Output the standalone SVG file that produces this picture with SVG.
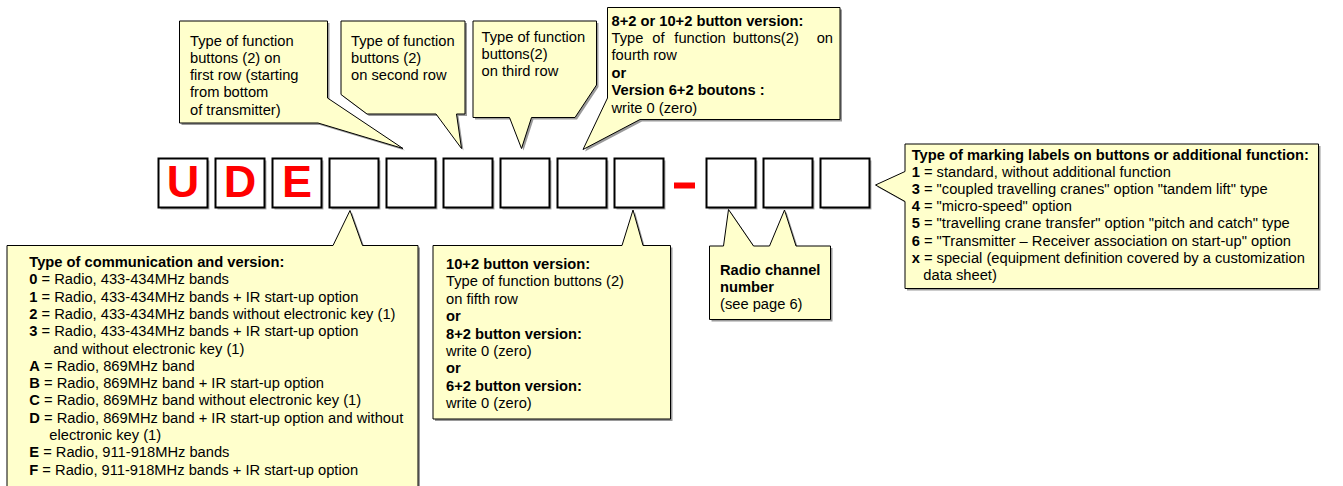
<svg xmlns="http://www.w3.org/2000/svg" xmlns:xlink="http://www.w3.org/1999/xlink" width="1343" height="486" viewBox="0 0 1343 486">
  <style>
    text { font-family: "Liberation Sans", Arial, sans-serif; font-size: 14.7px; fill: #000; }
    .b { font-weight: bold; }
    .code { stroke: #000; stroke-width: 2; fill: #fff; }
    .codeShadow { fill: #b0b0b0; }
    .letter { font-size: 45px; font-weight: bold; fill: #ff0000; text-anchor: middle; }
    .callout { fill: #ffffcc; stroke: #000; stroke-width: 1; stroke-linejoin: miter; }
    .shadow { fill: #9a9a9a; stroke: none; }
  </style>
  <defs>
    <!-- callout outlines, tail included -->
    <path id="s-row1" d="M179.5,21 H327.5 V98 L403,148.5 L318,123 H179.5 Z"/>
    <path id="s-row2" d="M341,21 H465 V114 H456.5 L461.5,148.5 L436,114 H367 L341,94.5 Z"/>
    <path id="s-row3" d="M473,21 H596.5 V85 L575,117.5 H531.5 L521.5,148.5 L509.5,117.5 H473 Z"/>
    <path id="s-row4" d="M607.5,7.5 H840 V119.5 H640 L583,149.5 L607.5,98 Z"/>
    <path id="s-comm" d="M7,245.5 H333 L350,210.5 L362.5,245.5 H418 V500 H7 Z"/>
    <path id="s-row5" d="M433,245.5 H622 L633,210 L643,245.5 H670.5 V419 H433 Z"/>
    <path id="s-radio" d="M709.5,246 H723.5 L728.5,209.5 L753.5,246 H769.5 L784.5,210 L796,246 H830.5 V319.5 H709.5 Z"/>
    <path id="s-label" d="M905,144 H1318.5 V288.5 H905 V201.5 L875.5,185 L905,171.5 Z"/>
    <rect id="box" width="49" height="49"/>
  </defs>

  <!-- reference code boxes -->
  <g id="code">
    <g id="box-U">
      <use xlink:href="#box" class="codeShadow" x="160.5" y="160.5"/>
      <use xlink:href="#box" class="code" x="158.5" y="158.5"/>
      <text class="letter" x="183" y="197">U</text>
    </g>
    <g id="box-D">
      <use xlink:href="#box" class="codeShadow" x="217.5" y="160.5"/>
      <use xlink:href="#box" class="code" x="215.5" y="158.5"/>
      <text class="letter" x="240" y="197">D</text>
    </g>
    <g id="box-E">
      <use xlink:href="#box" class="codeShadow" x="274.5" y="160.5"/>
      <use xlink:href="#box" class="code" x="272.5" y="158.5"/>
      <text class="letter" x="297" y="197">E</text>
    </g>
    <g id="box-4">
      <use xlink:href="#box" class="codeShadow" x="331.5" y="160.5"/>
      <use xlink:href="#box" class="code" x="329.5" y="158.5"/>
    </g>
    <g id="box-5">
      <use xlink:href="#box" class="codeShadow" x="388.5" y="160.5"/>
      <use xlink:href="#box" class="code" x="386.5" y="158.5"/>
    </g>
    <g id="box-6">
      <use xlink:href="#box" class="codeShadow" x="445.5" y="160.5"/>
      <use xlink:href="#box" class="code" x="443.5" y="158.5"/>
    </g>
    <g id="box-7">
      <use xlink:href="#box" class="codeShadow" x="502.5" y="160.5"/>
      <use xlink:href="#box" class="code" x="500.5" y="158.5"/>
    </g>
    <g id="box-8">
      <use xlink:href="#box" class="codeShadow" x="559.5" y="160.5"/>
      <use xlink:href="#box" class="code" x="557.5" y="158.5"/>
    </g>
    <g id="box-9">
      <use xlink:href="#box" class="codeShadow" x="616.5" y="160.5"/>
      <use xlink:href="#box" class="code" x="614.5" y="158.5"/>
    </g>
    <g id="dash">
      <rect x="674" y="182.5" width="21" height="6" fill="#ff0000"/>
    </g>
    <g id="box-10">
      <use xlink:href="#box" class="codeShadow" x="708.5" y="160.5"/>
      <use xlink:href="#box" class="code" x="706.5" y="158.5"/>
    </g>
    <g id="box-11">
      <use xlink:href="#box" class="codeShadow" x="765.5" y="160.5"/>
      <use xlink:href="#box" class="code" x="763.5" y="158.5"/>
    </g>
    <g id="box-12">
      <use xlink:href="#box" class="codeShadow" x="822.5" y="160.5"/>
      <use xlink:href="#box" class="code" x="820.5" y="158.5"/>
    </g>
  </g>

  <!-- callouts (their tails act as the connectors) -->
  <g id="callout-row1">
    <use xlink:href="#s-row1" class="shadow" x="2" y="2"/>
    <use xlink:href="#s-row1" class="callout"/>
    <text x="190" y="45.5">Type of function</text>
    <text x="190" y="62.8">buttons (2) on</text>
    <text x="190" y="80.1">first row (starting</text>
    <text x="190" y="97.4">from bottom</text>
    <text x="190" y="114.7">of transmitter)</text>
  </g>

  <g id="callout-row2">
    <use xlink:href="#s-row2" class="shadow" x="2" y="2"/>
    <use xlink:href="#s-row2" class="callout"/>
    <text x="351" y="45.5">Type of function</text>
    <text x="351" y="62.8">buttons (2)</text>
    <text x="351" y="80.1">on second row</text>
  </g>

  <g id="callout-row3">
    <use xlink:href="#s-row3" class="shadow" x="2" y="2"/>
    <use xlink:href="#s-row3" class="callout"/>
    <text x="481.5" y="41.5">Type of function</text>
    <text x="481.5" y="58.8">buttons(2)</text>
    <text x="481.5" y="76.1">on third row</text>
  </g>

  <g id="callout-row4">
    <use xlink:href="#s-row4" class="shadow" x="2" y="2"/>
    <use xlink:href="#s-row4" class="callout"/>
    <text class="b" x="611.5" y="25.5">8+2 or 10+2 button version:</text>
    <text y="42.9"><tspan x="611.5">Type</tspan><tspan x="652.3">of</tspan><tspan x="674.3">function</tspan><tspan x="732.7">buttons(2)</tspan><tspan x="816.7">on</tspan></text>
    <text x="611.5" y="60.3">fourth row</text>
    <text class="b" x="611.5" y="77.7">or</text>
    <text class="b" x="611.5" y="95.1">Version 6+2 boutons :</text>
    <text x="611.5" y="112.5">write 0 (zero)</text>
  </g>

  <g id="callout-communication">
    <use xlink:href="#s-comm" class="shadow" x="2" y="2"/>
    <use xlink:href="#s-comm" class="callout"/>
    <text class="b" x="29.3" y="267">Type of communication and version:</text>
    <text x="29.3" y="284.3"><tspan class="b">0</tspan> = Radio, 433-434MHz bands</text>
    <text x="29.3" y="301.6"><tspan class="b">1</tspan> = Radio, 433-434MHz bands + IR start-up option</text>
    <text x="29.3" y="318.9"><tspan class="b">2</tspan> = Radio, 433-434MHz bands without electronic key (1)</text>
    <text x="29.3" y="336.2"><tspan class="b">3</tspan> = Radio, 433-434MHz bands + IR start-up option</text>
    <text x="53.3" y="353.5">and without electronic key (1)</text>
    <text x="29.3" y="370.8"><tspan class="b">A</tspan> = Radio, 869MHz band</text>
    <text x="29.3" y="388.1"><tspan class="b">B</tspan> = Radio, 869MHz band + IR start-up option</text>
    <text x="29.3" y="405.4"><tspan class="b">C</tspan> = Radio, 869MHz band without electronic key (1)</text>
    <text x="29.3" y="422.7"><tspan class="b">D</tspan> = Radio, 869MHz band + IR start-up option and without</text>
    <text x="49.3" y="440">electronic key (1)</text>
    <text x="29.3" y="457.3"><tspan class="b">E</tspan> = Radio, 911-918MHz bands</text>
    <text x="29.3" y="474.6"><tspan class="b">F</tspan> = Radio, 911-918MHz bands + IR start-up option</text>
  </g>

  <g id="callout-row5">
    <use xlink:href="#s-row5" class="shadow" x="2" y="2"/>
    <use xlink:href="#s-row5" class="callout"/>
    <text class="b" x="446" y="269">10+2 button version:</text>
    <text x="446" y="286.4">Type of function buttons (2)</text>
    <text x="446" y="303.8">on fifth row</text>
    <text class="b" x="446" y="321.2">or</text>
    <text class="b" x="446" y="338.6">8+2 button version:</text>
    <text x="446" y="356">write 0 (zero)</text>
    <text class="b" x="446" y="373.4">or</text>
    <text class="b" x="446" y="390.8">6+2 button version:</text>
    <text x="446" y="408.2">write 0 (zero)</text>
  </g>

  <g id="callout-radio">
    <use xlink:href="#s-radio" class="shadow" x="2" y="2"/>
    <use xlink:href="#s-radio" class="callout"/>
    <text class="b" x="720" y="274.5">Radio channel</text>
    <text class="b" x="720" y="291.7">number</text>
    <text x="720" y="308.9">(see page 6)</text>
  </g>

  <g id="callout-labels">
    <use xlink:href="#s-label" class="shadow" x="2" y="2"/>
    <use xlink:href="#s-label" class="callout"/>
    <text class="b" x="911.7" y="160">Type of marking labels on buttons or additional function:</text>
    <text x="911.7" y="177.1"><tspan class="b">1</tspan> = standard, without additional function</text>
    <text x="911.7" y="194.2"><tspan class="b">3</tspan> = "coupled travelling cranes" option "tandem lift" type</text>
    <text x="911.7" y="211.3"><tspan class="b">4</tspan> = "micro-speed" option</text>
    <text x="911.7" y="228.4"><tspan class="b">5</tspan> = "travelling crane transfer" option "pitch and catch" type</text>
    <text x="911.7" y="245.5"><tspan class="b">6</tspan> = "Transmitter – Receiver association on start-up" option</text>
    <text x="911.7" y="262.6"><tspan class="b">x</tspan> = special (equipment definition covered by a customization</text>
    <text x="923.3" y="279.7">data sheet)</text>
  </g>
</svg>
